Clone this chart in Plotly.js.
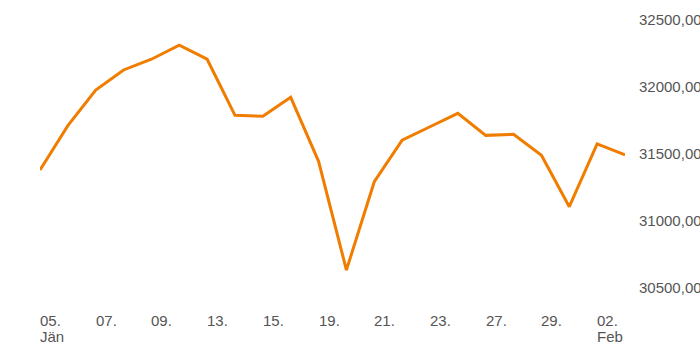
<!DOCTYPE html>
<html><head><meta charset="utf-8">
<script src="https://cdn.plot.ly/plotly-3.0.1.min.js"></script>
<style>html,body{margin:0;padding:0;background:#fff}#chart{width:700px;height:350px}</style>
</head><body><div id="chart"></div>
<script>
const dates = ["05.01","06.01","07.01","08.01","09.01","12.01","13.01","14.01","15.01","16.01","19.01","20.01","21.01","22.01","23.01","26.01","27.01","28.01","29.01","30.01","02.02","03.02"];
const values = [31379,31709,31975,32124,32204,32308,32204,31786,31779,31920,31444,30634,31292,31602,31701,31801,31637,31645,31488,31106,31573,31491];
const tickDates = ["05.01","07.01","09.01","13.01","15.01","19.01","21.01","23.01","27.01","29.01","02.02"];
const tickDays = ["05.","07.","09.","13.","15.","19.","21.","23.","27.","29.","02."];
const tickMonths = ["Jän","","","","","","","","","","Feb"];
const yTicks = [30500,31000,31500,32000,32500];

const font = {family:"Liberation Sans, Arial, sans-serif", size:15, color:"#555"};
const annotations = [];
tickDates.forEach((d,i)=>{
  annotations.push({x: dates.indexOf(d), xref:"x", y:-0.035, yref:"paper",
    text: tickDays[i], showarrow:false, xanchor:"left", yanchor:"top", font: font, xshift:-2, yshift:1});
  if (tickMonths[i]) annotations.push({x: dates.indexOf(d), xref:"x", y:-0.035, yref:"paper",
    text: tickMonths[i], showarrow:false, xanchor:"left", yanchor:"top", font: font, xshift:-2, yshift:-15});
});

Plotly.newPlot("chart", [{
  x: dates.map((d,i)=>i), y: values, type:"scatter", mode:"lines",
  line:{color:"#f07d00", width:3}, hoverinfo:"none"
}], {
  width:700, height:350,
  margin:{l:40, r:75, t:0, b:50},
  paper_bgcolor:"#fff", plot_bgcolor:"#fff",
  separators:",.",
  showlegend:false,
  xaxis:{range:[0,21], showgrid:false, zeroline:false, showline:false, showticklabels:false, ticks:""},
  yaxis:{side:"right", range:[30411,32645], tickvals:yTicks, tickformat:".2f",
         showgrid:false, zeroline:false, showline:false, ticks:"", tickfont:font, ticklabelstandoff:13},
  annotations: annotations
}, {staticPlot:true, displayModeBar:false});
</script></body></html>
